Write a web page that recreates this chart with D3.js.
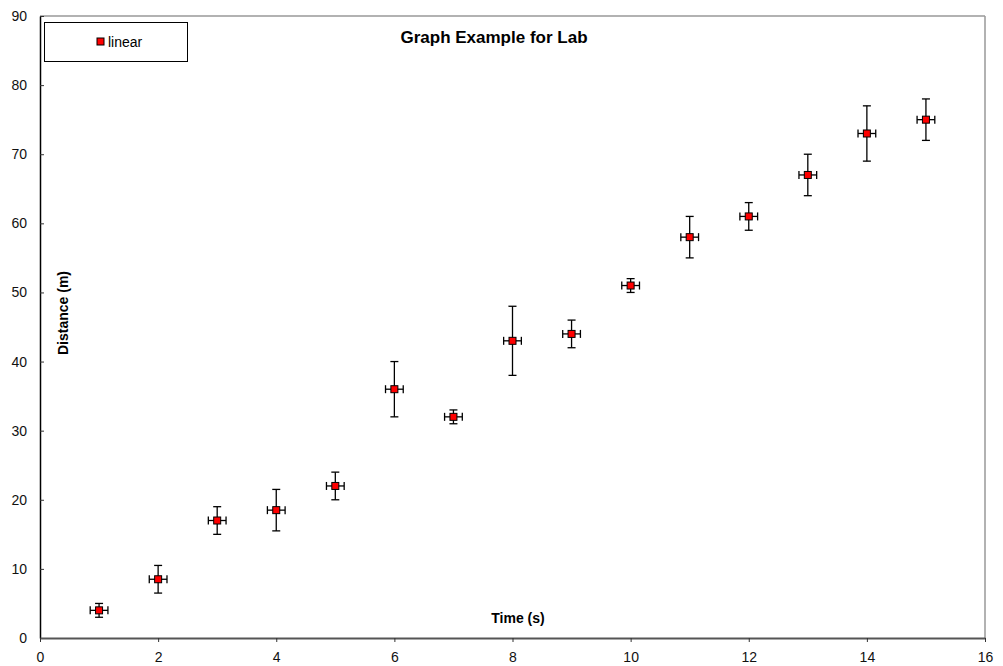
<html lang="en">
<head>
<meta charset="utf-8">
<title>Graph Example for Lab</title>
<script src="https://d3js.org/d3.v7.min.js"></script>
<style>
  body { margin: 0; background: #fff; }
  text { font-family: "Liberation Sans", Arial, sans-serif; }
</style>
</head>
<body>
<div id="chart"></div>
<script>
// data
var times     = [1, 2, 3, 4, 5, 6, 7, 8, 9, 10, 11, 12, 13, 14, 15];
var distances = [4, 8.5, 17, 18.5, 22, 36, 32, 43, 44, 51, 58, 61, 67, 73, 75];
var yErrors   = [1, 2, 2, 3, 2, 4, 1, 5, 2, 1, 3, 2, 3, 4, 3];
var xErrors   = [0.15, 0.15, 0.15, 0.15, 0.15, 0.15, 0.15, 0.15, 0.15, 0.15, 0.15, 0.15, 0.15, 0.15, 0.15];
var xTicks    = [0, 2, 4, 6, 8, 10, 12, 14, 16];
var yTicks    = [0, 10, 20, 30, 40, 50, 60, 70, 80, 90];

var data = times.map(function(t, i) {
  return {x: t, y: distances[i], ex: xErrors[i], ey: yErrors[i]};
});

var W = 1003, H = 666;
var margin = {top: 16, right: 18, bottom: 28, left: 40};
var width = W - margin.left - margin.right,
    height = H - margin.top - margin.bottom;

var svg = d3.select("#chart").append("svg")
    .attr("width", W).attr("height", H);

var g = svg.append("g")
    .attr("transform", "translate(" + margin.left + "," + margin.top + ")");

var x = d3.scaleLinear().domain([0, 16]).range([0, width]);
var y = d3.scaleLinear().domain([0, 90]).range([height, 0]);

// top and right frame
g.append("line").attr("x1", 0).attr("x2", width).attr("y1", 0).attr("y2", 0)
  .attr("stroke", "#999").attr("stroke-width", 1.5);
g.append("line").attr("x1", width).attr("x2", width).attr("y1", 0).attr("y2", height)
  .attr("stroke", "#999").attr("stroke-width", 1.5);

// axes
var yAxis = g.append("g")
  .call(d3.axisLeft(y).tickValues(yTicks).tickSize(-4).tickSizeOuter(0).tickPadding(13));
yAxis.select(".domain").attr("stroke", "#000").attr("stroke-width", 1.5);

var xAxis = g.append("g")
  .attr("transform", "translate(0," + height + ")")
  .call(d3.axisBottom(x).tickValues(xTicks).tickSize(4).tickSizeOuter(0).tickPadding(10));
xAxis.select(".domain").attr("stroke", "#555").attr("stroke-width", 2);

g.selectAll(".tick text")
  .attr("font-size", 14)
  .attr("fill", "#111")
  .style("font-family", "'Liberation Sans', Arial, sans-serif");
g.selectAll(".tick line").attr("stroke", "#333");

// error bars
var cap = 4;
var eb = g.append("g").attr("stroke", "#000").attr("stroke-width", 1.3);
data.forEach(function(d) {
  var cx = x(d.x), cy = y(d.y);
  // vertical
  eb.append("line").attr("x1", cx).attr("x2", cx)
    .attr("y1", y(d.y + d.ey)).attr("y2", y(d.y - d.ey));
  eb.append("line").attr("x1", cx - cap).attr("x2", cx + cap)
    .attr("y1", y(d.y + d.ey)).attr("y2", y(d.y + d.ey));
  eb.append("line").attr("x1", cx - cap).attr("x2", cx + cap)
    .attr("y1", y(d.y - d.ey)).attr("y2", y(d.y - d.ey));
  // horizontal
  eb.append("line").attr("x1", x(d.x - d.ex)).attr("x2", x(d.x + d.ex))
    .attr("y1", cy).attr("y2", cy);
  eb.append("line").attr("x1", x(d.x - d.ex)).attr("x2", x(d.x - d.ex))
    .attr("y1", cy - cap).attr("y2", cy + cap);
  eb.append("line").attr("x1", x(d.x + d.ex)).attr("x2", x(d.x + d.ex))
    .attr("y1", cy - cap).attr("y2", cy + cap);
});

// markers
g.selectAll("rect.pt")
  .data(data)
  .enter().append("rect")
  .attr("class", "pt")
  .attr("x", function(d) { return x(d.x) - 3.5; })
  .attr("y", function(d) { return y(d.y) - 3.5; })
  .attr("width", 7).attr("height", 7)
  .attr("fill", "#ff0000")
  .attr("stroke", "#000").attr("stroke-width", 1);

// title
svg.append("text")
  .attr("x", 494).attr("y", 43)
  .attr("text-anchor", "middle")
  .attr("font-size", 17).attr("font-weight", "bold")
  .text("Graph Example for Lab");

// axis labels
svg.append("text")
  .attr("x", 518).attr("y", 623)
  .attr("text-anchor", "middle")
  .attr("font-size", 14).attr("font-weight", "bold")
  .text("Time (s)");

svg.append("text")
  .attr("transform", "translate(68,313) rotate(-90)")
  .attr("text-anchor", "middle")
  .attr("font-size", 14).attr("font-weight", "bold")
  .text("Distance (m)");

// legend
var lg = svg.append("g");
lg.append("rect").attr("x", 44.5).attr("y", 22.5).attr("width", 143).attr("height", 39)
  .attr("fill", "#fff").attr("stroke", "#000").attr("stroke-width", 1);
lg.append("rect").attr("x", 97).attr("y", 38).attr("width", 7).attr("height", 7)
  .attr("fill", "#ff0000").attr("stroke", "#000");
lg.append("text").attr("x", 108).attr("y", 47)
  .attr("font-size", 14).text("linear");
</script>
</body>
</html>
